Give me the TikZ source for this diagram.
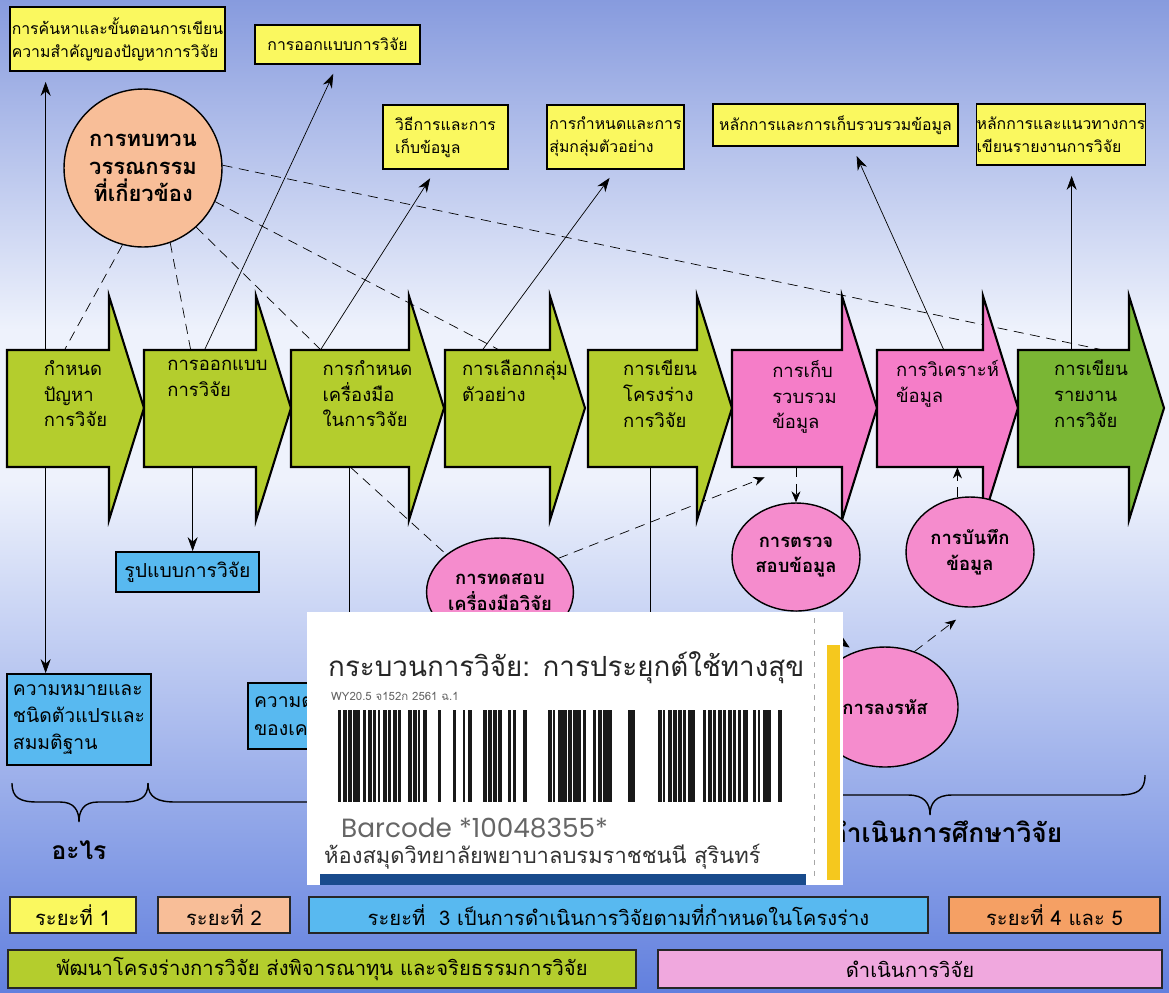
\documentclass[tikz,border=0pt]{standalone}
\usepackage{fontspec}
\setmainfont{Loma}[Script=Thai]
\newfontfamily\latinfont{Poppins}
\usetikzlibrary{shapes.geometric,calc,arrows.meta,backgrounds,fit}

\definecolor{bgtop}{RGB}{135,155,222}
\definecolor{bgmid}{RGB}{238,242,252}
\definecolor{bgbot}{RGB}{98,128,222}
\definecolor{yell}{RGB}{250,248,95}
\definecolor{peach}{RGB}{248,190,152}
\definecolor{lgreen}{RGB}{180,205,45}
\definecolor{dgreen}{RGB}{122,182,52}
\definecolor{pinkarr}{RGB}{245,125,200}
\definecolor{pinkc}{RGB}{245,140,205}
\definecolor{lblue}{RGB}{88,185,240}
\definecolor{orng}{RGB}{245,160,100}
\definecolor{lpink}{RGB}{240,168,222}
\definecolor{stky}{RGB}{245,200,30}
\definecolor{stkb}{RGB}{25,75,140}

\begin{document}
\begin{tikzpicture}[x=0.02cm, y=-0.02cm,
    ybox/.style={draw, line width=1pt, fill=yell, align=left, inner sep=0, font=\fontsize{9}{13}\selectfont},
    bbox/.style={draw, line width=1pt, fill=lblue, align=left, inner sep=0, font=\fontsize{11}{15.5}\selectfont},
    bubble/.style={ellipse, draw, line width=0.8pt, fill=pinkc, align=center, inner sep=0, font=\bfseries\fontsize{10.5}{14.5}\selectfont},
    stagetext/.style={anchor=north, align=left, font=\fontsize{10.5}{14.7}\selectfont},
    legend/.style={draw=black!85, line width=1pt, inner sep=0, minimum height=0.72cm, font=\fontsize{11.5}{14}\selectfont},
    lnk/.style={dash pattern=on 0.2cm off 0.13cm},
    lnkarr/.style={lnk, -{Stealth[length=0.22cm,width=0.18cm]}},
    uparr/.style={-{Stealth[length=0.28cm,width=0.2cm]}, shorten >=0.2cm},
    downarr/.style={-{Stealth[length=0.28cm,width=0.2cm]}},
    brc/.style={line width=0.8pt},
  ]
  \useasboundingbox (0,0) rectangle (1169,992);
  \begin{scope}[on background layer]
    \shade[top color=bgtop, bottom color=bgmid] (0,0) rectangle (1169,330);
    \fill[bgmid] (0,330) rectangle (1169,480);
    \shade[top color=bgmid, bottom color=bgbot] (0,480) rectangle (1169,992);
  \end{scope}

  % the eight stages
  \foreach \i/\xl/\xt/\cl/\txt in {1/7/144/lgreen/{กำหนด\\ปัญหา\\การวิจัย},
      2/144/291/lgreen/{การออกแบบ\\การวิจัย},
      3/291/444/lgreen/{การกำหนด\\เครื่องมือ\\ในการวิจัย},
      4/445/585/lgreen/{การเลือกกลุ่ม\\ตัวอย่าง},
      5/588/732/lgreen/{การเขียน\\โครงร่าง\\การวิจัย},
      6/732/877/pinkarr/{การเก็บ\\รวบรวม\\ข้อมูล},
      7/877/1018/pinkarr/{การวิเคราะห์\\ข้อมูล},
      8/1018/1164/dgreen/{การเขียน\\รายงาน\\การวิจัย}}{
    \draw[line width=1.2pt, fill=\cl] (\xl,350) -- (\xt-35,350) -- (\xt-35,296) -- (\xt,408)
      -- (\xt-35,520) -- (\xt-35,467) -- (\xl,467) -- cycle;
    \node[fit={(\xl,350) (\xt-35,467)}, inner sep=0] (s\i) {};
    \node[stagetext] (t\i) at ({(\xl+\xt)/2},354) {\txt};
  }

  % yellow boxes
  \node[ybox, minimum width=4.3cm, minimum height=1.28cm] (y1) at (117.5,39) {การค้นหาและขั้นตอนการเขียน\\ความสำคัญของปัญหาการวิจัย};
  \node[ybox, minimum width=3.3cm, minimum height=0.78cm] (y2) at (337.5,44.5) {การออกแบบการวิจัย};
  \node[ybox, minimum width=2.5cm, minimum height=1.28cm] (y3) at (445.5,137) {วิธีการและการ\\เก็บข้อมูล};
  \node[ybox, minimum width=2.74cm, minimum height=1.28cm] (y4) at (615.5,137) {การกำหนดและการ\\สุ่มกลุ่มตัวอย่าง};
  \node[ybox, minimum width=4.9cm, minimum height=0.84cm] (y5) at (835.5,125) {หลักการและการเก็บรวบรวมข้อมูล};
  \node[ybox, minimum width=3.28cm, minimum height=1.22cm] (y6) at (1061,134.5) {หลักการและแนวทางการ\\เขียนรายงานการวิจัย};

  \node[bubble, fill=peach, minimum width=3.16cm, minimum height=3.16cm, font=\bfseries\fontsize{12.5}{15.5}\selectfont] (lit) at (143,168) {การทบทวน\\วรรณกรรม\\ที่เกี่ยวข้อง};

  % blue boxes
  \node[bbox, minimum width=2.88cm, minimum height=1.82cm] (mean) at (79,719.5) {ความหมายและ\\ชนิดตัวแปรและ\\สมมติฐาน};
  \node[bbox, minimum width=2.86cm, minimum height=0.8cm] (form) at (187.5,572) {รูปแบบการวิจัย};
  \node[bbox, minimum width=4.04cm, minimum height=1.32cm, text width=3.8cm] (vald) at (349,716) {ความต\\ของเค};

  % pink circles
  \node[bubble, minimum width=2.92cm, minimum height=2.16cm] (tst) at (500,592) {การทดสอบ\\เครื่องมือวิจัย};
  \node[bubble, minimum width=2.56cm, minimum height=2.16cm] (chk) at (796,557) {การตรวจ\\สอบข้อมูล};
  \node[bubble, minimum width=2.56cm, minimum height=2.2cm] (rec) at (970,552) {การบันทึก\\ข้อมูล};
  \node[bubble, minimum width=2.92cm, minimum height=2.4cm] (cod) at (885,707) {การลงรหัส};

  % connectors
  \begin{scope}[on background layer, line width=0.8pt, black!85]
    \coordinate (p1) at ($(s1.north west)+(39,0)$);
    \draw[uparr] (p1) -- (p1 |- y1.south);
    \draw[downarr] (p1) -- (p1 |- mean.north);
    \draw[uparr] ($(s2.north west)+(61,0)$) -- (y2.south);
    \coordinate (p2) at ($(s2.south west)+(49,0)$);
    \draw[downarr] (p2) -- (p2 |- form.north);
    \draw[uparr] ($(s3.north west)+(30,0)$) -- ($(y3.south)+(-10,0)$);
    \draw[downarr] (vald.north |- s3.south) -- (vald.north);
    \draw[uparr] ($(s4.north west)+(38,0)$) -- (y4.south);
    \draw ($(s5.south west)+(63,0)$) -- ++(0,180);
    \draw[uparr] ($(s7.north west)+(67,0)$) -- ($(y5.south)+(17,0)$);
    \coordinate (p8) at ($(s8.north west)+(54,0)$);
    \draw[uparr] (p8) -- (p8 |- y6.south);
    % literature review
    \draw[lnk] (lit.255) -- ($(s1.north west)+(58,0)$);
    \draw[lnk] (lit.290) -- ($(s2.north west)+(47,0)$);
    \draw[lnk] (lit.312) -- ($(s3.north west)+(30,0)$);
    \draw[lnk] (lit.335) -- ($(s4.north west)+(54,0)$);
    \draw[lnk] (lit.2) -- ($(s8.north west)+(84,0)$);
    \draw[lnk] ($(s3.south west)+(60,0)$) -- (tst.145);
    \draw[lnkarr] (tst.30) -- ($(s6.south west)+(33,10)$);
    \draw[lnkarr] (chk.north |- s6.south) -- (chk.north);
    \draw[lnkarr] (rec.103) -- (rec.103 |- s7.south);
    \draw[lnkarr, shorten >=4] (chk.south) -- (cod.118);
    \draw[lnkarr] (cod.62) -- ($(rec.south)+(-14,12)$);
  \end{scope}

  % braces
  \draw[brc] (12,783) .. controls (12,798) and (20,802) .. (38,802) -- (60,802)
    .. controls (74,802) and (79,810) .. (79,822) .. controls (79,810) and (84,802) .. (98,802)
    -- (122,802) .. controls (140,802) and (148,798) .. (148,783);
  \draw[brc] (148,783) .. controls (148,798) and (158,802) .. (176,802) -- (400,802)
    .. controls (414,802) and (420,810) .. (420,822) .. controls (420,810) and (426,802) .. (440,802)
    -- (560,802) .. controls (578,802) and (586,798) .. (586,783);
  \draw[brc] (700,775) .. controls (700,790) and (710,795) .. (728,795) -- (908,795)
    .. controls (924,795) and (930,803) .. (930,815) .. controls (930,803) and (936,795) .. (952,795)
    -- (1118,795) .. controls (1138,795) and (1145,790) .. (1145,775);
  \node[font=\bfseries\fontsize{14}{16}\selectfont] (what) at (79,850) {อะไร};
  \node[font=\bfseries\fontsize{15}{17}\selectfont] (conduct) at (946,832) {ดำเนินการศึกษาวิจัย};

  % library sticker
  \fill[white] (307,612) rectangle (843,885);
  \draw[black!35, dash pattern=on 0.1cm off 0.12cm] (814,618) -- (814,880);
  \fill[stky] (827,645) rectangle (840,880);
  \fill[stkb] (320,874) rectangle (806,885);
  \node[anchor=west, text=black!85, font=\fontsize{15.8}{18}\selectfont] (ttl) at (322,668) {กระบวนการวิจัย: การประยุกต์ใช้ทางสุข};
  \node[anchor=west, text=black!60, font=\fontsize{6.5}{8}\selectfont] (cal) at (325,696) {WY20.5 จ152ก 2561 ฉ.1};
  \pgfmathsetseed{48355}
  \foreach \k in {0,...,89}{
    \pgfmathsetmacro{\rr}{rnd}
    \pgfmathsetmacro{\ww}{1.6+3.2*rnd}
    \ifdim\rr pt<0.74pt \fill[black!90] (338+5*\k,710) rectangle ++(\ww,92); \fi
  }
  \node[anchor=west, text=black!60, font=\latinfont\fontsize{15}{17}\selectfont] (bcd) at (335,828) {Barcode *10048355*};
  \node[anchor=west, text=black!80, font=\fontsize{12.5}{15}\selectfont] (lib) at (318,857) {ห้องสมุดวิทยาลัยพยาบาลบรมราชชนนี สุรินทร์};

  % phases
  \node[legend, fill=yell, minimum width=2.52cm] (l1) at (73,915) {ระยะที่ 1};
  \node[legend, fill=peach, minimum width=2.64cm] (l2) at (224,915) {ระยะที่ 2};
  \node[legend, fill=lblue, minimum width=12.38cm] (l3) at (618.5,915) {ระยะที่~~3 เป็นการดำเนินการวิจัยตามที่กำหนดในโครงร่าง};
  \node[legend, fill=orng, minimum width=4.22cm] (l4) at (1054.5,915) {ระยะที่ 4 และ 5};
  \node[legend, fill=lgreen, minimum width=12.56cm, minimum height=0.76cm] (l5) at (322,969) {พัฒนาโครงร่างการวิจัย ส่งพิจารณาทุน และจริยธรรมการวิจัย};
  \node[legend, fill=lpink, minimum width=10.08cm, minimum height=0.76cm] (l6) at (910,969) {ดำเนินการวิจัย};
\end{tikzpicture}
\end{document}
